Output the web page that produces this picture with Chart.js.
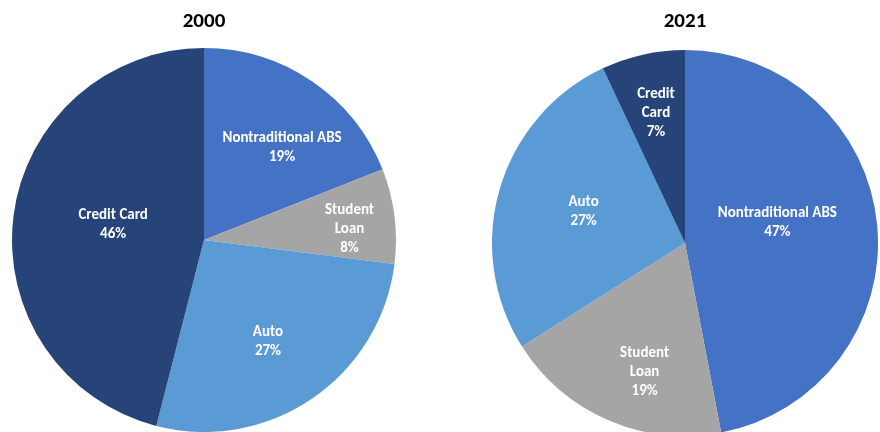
<!DOCTYPE html>
<html>
<head>
<meta charset="utf-8">
<script src="https://cdn.jsdelivr.net/npm/chart.js@4.4.1/dist/chart.umd.min.js"></script>
<style>
    html, body { margin: 0; padding: 0; background: #fff; overflow: hidden; }
    body { width: 880px; height: 432px; position: relative; }
    .pie { position: absolute; top: 0; }
    #pie2000 { left: 12px; width: 384px; height: 432px; }
    #pie2021 { left: 492px; width: 386px; height: 436px; }
</style>
</head>
<body>
<div class="pie" id="pie2000"><canvas id="chart2000"></canvas></div>
<div class="pie" id="pie2021"><canvas id="chart2021"></canvas></div>
<script>
const categories = ['Nontraditional ABS', 'Student Loan', 'Auto', 'Credit Card'];
const share2000 = [19, 8, 27, 46];
const share2021 = [47, 19, 27, 7];
const sliceColors = ['#4472C4', '#A5A5A5', '#5B9BD5', '#264478'];

const fontFamily = 'Carlito, Lato, "Liberation Sans", sans-serif';

// white labels inside each slice: category name (optionally split per word) and percent
const sliceLabels = {
    id: 'sliceLabels',
    afterDatasetsDraw(chart, args, opts) {
        const ctx = chart.ctx;
        const meta = chart.getDatasetMeta(0);
        const values = chart.data.datasets[0].data;
        ctx.save();
        ctx.fillStyle = '#fff';
        ctx.font = 'bold 15px ' + fontFamily;
        ctx.textAlign = 'center';
        ctx.textBaseline = 'middle';
        meta.data.forEach((arc, i) => {
            const p = arc.getProps(['x', 'y', 'startAngle', 'endAngle', 'outerRadius'], true);
            const place = opts.place[i];
            const mid = (p.startAngle + p.endAngle) / 2 + place[1] * Math.PI / 180;
            const r = p.outerRadius * place[0];
            const cx = p.x + Math.cos(mid) * r;
            const cy = p.y + Math.sin(mid) * r;
            const name = chart.data.labels[i];
            const lines = (opts.split[i] ? name.split(' ') : [name]).concat([values[i] + '%']);
            const lh = 19;
            lines.forEach((t, k) => {
                ctx.fillText(t, cx, cy + (k - (lines.length - 1) / 2) * lh);
            });
        });
        ctx.restore();
    }
};

function makePie(id, year, values, titlePad, labelOpts) {
    const ctx = document.getElementById(id).getContext('2d');
    return new Chart(ctx, {
        type: 'pie',
        data: {
            labels: categories,
            datasets: [{
                data: values,
                backgroundColor: sliceColors,
                borderWidth: 0,
                hoverOffset: 0,
                offset: 0
            }]
        },
        options: {
            responsive: true,
            maintainAspectRatio: false,
            animation: false,
            layout: { padding: 0 },
            events: [],
            plugins: {
                legend: { display: false },
                tooltip: { enabled: false },
                title: {
                    display: true,
                    text: year,
                    color: '#000',
                    font: { family: fontFamily, size: 21, weight: 'bold', lineHeight: 1.2 },
                    padding: titlePad
                },
                sliceLabels: labelOpts
            }
        },
        plugins: [sliceLabels]
    });
}

makePie('chart2000', '2000', share2000, { top: 9.4, bottom: 13.4 }, {
    split: [false, true, false, false],
    place: [[0.63, 6], [0.76, 3], [0.625, 2], [0.48, 2.5]]
});

makePie('chart2021', '2021', share2021, { top: 9.4, bottom: 15.4 }, {
    split: [false, true, false, true],
    place: [[0.49, -7], [0.70, -6], [0.55, 1], [0.69, 0]]
});
</script>
</body>
</html>
